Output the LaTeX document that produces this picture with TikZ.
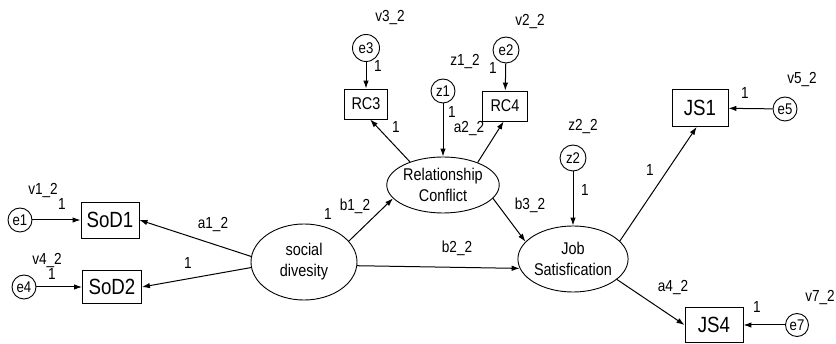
\documentclass[tikz,border=0pt]{standalone}
\usepackage{fontspec}
\setmainfont{Liberation Sans}[FakeStretch=0.85]
\usetikzlibrary{shapes.geometric,arrows.meta}
\begin{document}
\begin{tikzpicture}[x=1pt,y=-1pt,
  every node/.style={inner sep=0pt},
  path/.style={draw, line width=1pt, -{Latex[length=8pt,width=5.5pt]}},
  obsbig/.style={draw, line width=0.9pt, rectangle, font=\fontsize{22}{24}\selectfont},
  obssmall/.style={draw, line width=0.9pt, rectangle, font=\fontsize{17}{19}\selectfont},
  latent/.style={draw, line width=0.9pt, ellipse, align=center, font=\fontsize{17}{21}\selectfont},
  err/.style={draw, line width=0.9pt, circle, font=\fontsize{15.5}{16}\selectfont},
  lbl/.style={font=\fontsize{16}{17}\selectfont}]
\useasboundingbox (0,0) rectangle (836,344);

% observed indicators
\node[obsbig, minimum width=58pt, minimum height=36pt] (sod1) at (110,220) {SoD1};
\node[obsbig, minimum width=59pt, minimum height=33pt] (sod2) at (112,287) {SoD2};
\node[obssmall, minimum width=43pt, minimum height=30pt] (rc3) at (366,104) {RC3};
\node[obssmall, minimum width=45pt, minimum height=30pt] (rc4) at (505,106) {RC4};
\node[obsbig, minimum width=56pt, minimum height=37pt] (js1) at (700,108) {JS1};
\node[obsbig, minimum width=58pt, minimum height=35pt] (js4) at (714,325) {JS4};

% latent constructs
\node[latent, minimum width=106pt, minimum height=76pt] (soc) at (304,262) {social\\divesity};
\node[latent, minimum width=98pt, minimum height=56pt] (rc) at (443,185) {Relationship\\Conflict};
\node[latent, minimum width=104pt, minimum height=66pt] (js) at (573,259) {Job\\Satisfication};

% error and disturbance terms
\node[err, minimum size=24pt] (e1) at (20,220) {e1};
\node[err, minimum size=24pt] (e4) at (24,287) {e4};
\node[err, minimum size=27pt] (e3) at (366,48) {e3};
\node[err, minimum size=26pt] (e2) at (506,50) {e2};
\node[err, minimum size=24pt] (z1) at (443,91) {z1};
\node[err, minimum size=26pt] (z2) at (573,158) {z2};
\node[err, minimum size=24pt] (e5) at (785,109) {e5};
\node[err, minimum size=23pt] (e7) at (797,325) {e7};

% paths
\draw[path] (e1) -- (sod1);
\draw[path] (e4) -- (sod2);
\draw[path] (soc.174) -- (sod1.east);
\draw[path] (soc.186) -- (sod2.east);
\draw[path] (soc.25) -- (rc.195);
\draw[path] (soc.-4) -- (js.190);
\draw[path] (rc.145) -- (rc3.-75);
\draw[path] (rc.33) -- (rc4.-95);
\draw[path] (z1) -- (rc);
\draw[path] (e3) -- (rc3);
\draw[path] (e2) -- (rc4);
\draw[path] (rc.-15) -- (js.160);
\draw[path] (z2) -- (js);
\draw[path] (js.21) -- (js1.-100);
\draw[path] (js.-25) -- (js4.west);
\draw[path] (e5) -- (js1);
\draw[path] (e7) -- (js4);

% parameter labels
\node[lbl] (l1) at (43,191) {v1\_2};
\node[lbl] (l2) at (62,204) {1};
\node[lbl] (l3) at (47,261) {v4\_2};
\node[lbl] (l4) at (52,274) {1};
\node[lbl] (l5) at (213,225) {a1\_2};
\node[lbl] (l6) at (188,263) {1};
\node[lbl] (l7) at (390,18) {v3\_2};
\node[lbl] (l8) at (378,66) {1};
\node[lbl] (l9) at (530,22) {v2\_2};
\node[lbl] (l10) at (465,62) {z1\_2};
\node[lbl] (l11) at (493,68) {1};
\node[lbl] (l12) at (452,112) {1};
\node[lbl] (l13) at (469,129) {a2\_2};
\node[lbl] (l14) at (396,127) {1};
\node[lbl] (l15) at (328,214) {1};
\node[lbl] (l16) at (355,206) {b1\_2};
\node[lbl] (l17) at (457,248) {b2\_2};
\node[lbl] (l18) at (530,205) {b3\_2};
\node[lbl] (l19) at (583,127) {z2\_2};
\node[lbl] (l20) at (585,190) {1};
\node[lbl] (l21) at (650,170) {1};
\node[lbl] (l22) at (802,80) {v5\_2};
\node[lbl] (l23) at (745,93) {1};
\node[lbl] (l24) at (673,288) {a4\_2};
\node[lbl] (l25) at (820,298) {v7\_2};
\node[lbl] (l26) at (757,307) {1};
\end{tikzpicture}
\end{document}
